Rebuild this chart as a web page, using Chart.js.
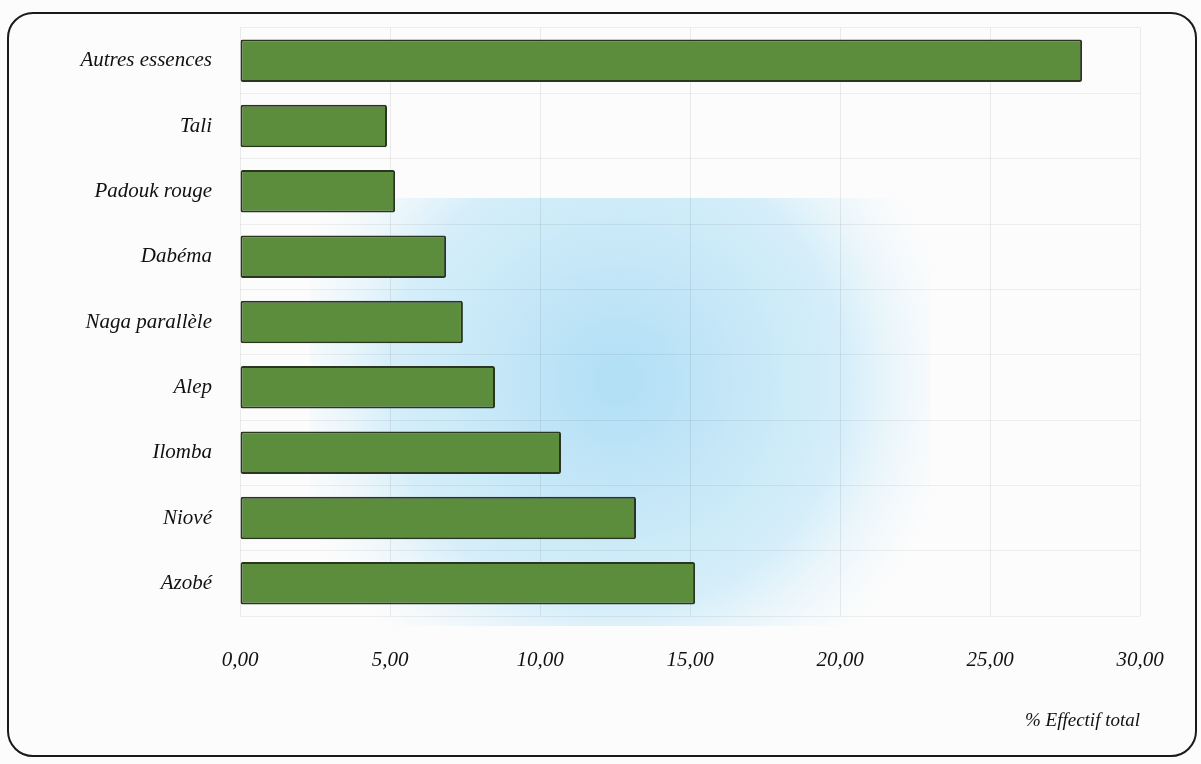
<!DOCTYPE html>
<html>
<head>
<meta charset="utf-8">
<script src="https://cdn.jsdelivr.net/npm/chart.js@4/dist/chart.umd.min.js"></script>
<style>
  html, body { margin: 0; padding: 0; background: #fff; }
  #wrap { position: relative; width: 1201px; height: 764px; overflow: hidden; }
  #frame {
    position: absolute; left: 7px; top: 12px; width: 1186px; height: 741px;
    border: 2px solid #1a1a1a; border-radius: 26px; pointer-events: none;
  }
  canvas { position: absolute; left: 0; top: 0; }
</style>
</head>
<body>
<div id="wrap">
  <canvas id="chart" width="1201" height="764"></canvas>
  <div id="frame"></div>
</div>
<script>
// essences et pourcentage de l'effectif total
let essences = ['Autres essences', 'Tali', 'Padouk rouge', 'Dabéma', 'Naga parallèle', 'Alep', 'Ilomba', 'Niové', 'Azobé'];
let effectif = [28.07, 4.9, 5.17, 6.87, 7.43, 8.5, 10.7, 13.2, 15.17];
let ticksX = [0, 5, 10, 15, 20, 25, 30];
let titreX = '% Effectif total';

let police = 'Liberation Serif';

// fond bleuté derrière la zone du graphe
let fond = {
  id: 'fond',
  beforeDraw(chart) {
    let ctx = chart.ctx;
    let a = chart.chartArea;
    ctx.save();
    ctx.fillStyle = '#fcfcfc';
    ctx.fillRect(0, 0, chart.width, chart.height);
    let cx = a.left + a.width * 0.42;
    let cy = a.top + a.height * 0.6;
    let g = ctx.createRadialGradient(cx, cy, 20, cx, cy, 340);
    g.addColorStop(0, 'rgba(120,200,240,0.55)');
    g.addColorStop(0.65, 'rgba(150,215,245,0.38)');
    g.addColorStop(1, 'rgba(200,235,250,0)');
    ctx.fillStyle = g;
    ctx.fillRect(a.left + 70, a.top + 170, 620, a.height - 160);
    ctx.restore();
  }
};

let ctx = document.getElementById('chart');
let chart = new Chart(ctx, {
  type: 'bar',
  data: {
    labels: essences,
    datasets: [{
      data: effectif,
      backgroundColor: '#5b8d3d',
      borderColor: '#2a3620',
      borderWidth: 2,
      borderSkipped: false,
      borderRadius: 2,
      barPercentage: 0.65,
      categoryPercentage: 1
    }]
  },
  plugins: [fond],
  options: {
    indexAxis: 'y',
    responsive: false,
    animation: false,
    layout: { padding: { top: 28, right: 61, bottom: 24, left: 0 } },
    plugins: { legend: { display: false }, tooltip: { enabled: false } },
    scales: {
      x: {
        min: 0,
        max: 30,
        afterBuildTicks(axis) { axis.ticks = ticksX.map(v => ({ value: v })); },
        afterFit(axis) { axis.height = 124; },
        border: { display: false },
        grid: { color: 'rgba(0,0,0,0.07)', drawTicks: false },
        ticks: {
          padding: 32,
          color: '#111',
          font: { family: police, style: 'italic', size: 21 },
          callback: v => v.toFixed(2).replace('.', ',')
        },
        title: {
          display: true,
          text: titreX,
          align: 'end',
          color: '#111',
          padding: { top: 0, bottom: 8 },
          font: { family: police, style: 'italic', size: 19 }
        }
      },
      y: {
        afterFit(axis) {
          axis.width = 240;
          axis.paddingTop = 0;
          axis.paddingBottom = 0;
        },
        border: { display: false },
        grid: { color: 'rgba(0,0,0,0.06)', drawTicks: false, offset: true },
        ticks: {
          padding: 28,
          color: '#111',
          font: { family: police, style: 'italic', size: 21 }
        }
      }
    }
  }
});
</script>
</body>
</html>
